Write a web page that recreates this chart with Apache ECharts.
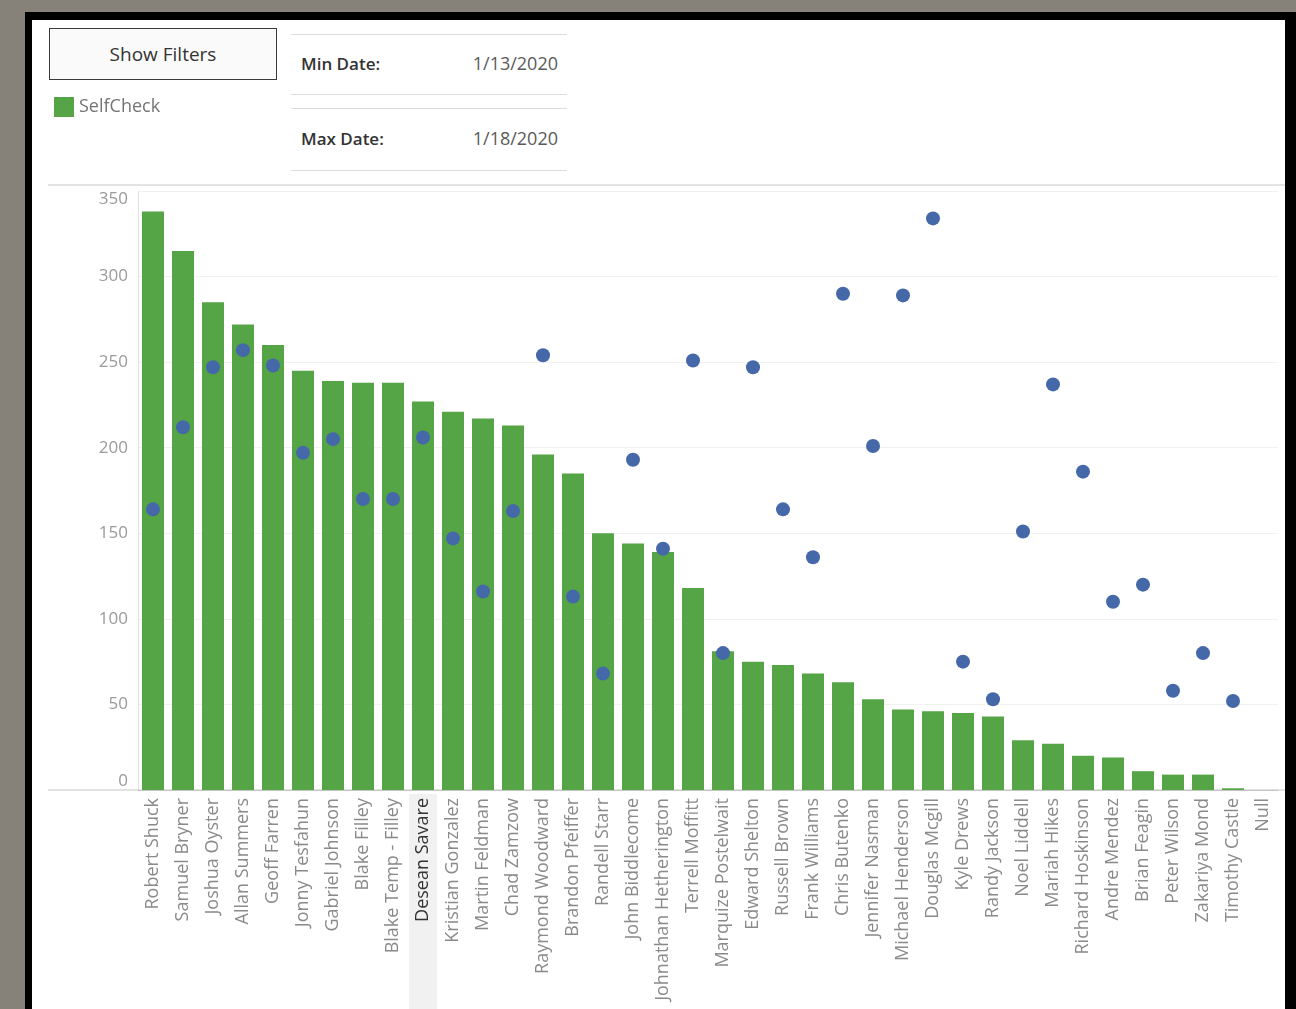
<!DOCTYPE html>
<html>
<head>
<meta charset="utf-8">
<script src="https://cdn.jsdelivr.net/npm/echarts@6/dist/echarts.min.js"></script>
<style>
  html, body { margin: 0; padding: 0; }
  body { width: 1296px; height: 1009px; background: #86827a; position: relative; overflow: hidden; font-family: "Open Sans", sans-serif; }
  .frame { position: absolute; left: 25px; top: 12px; width: 1280px; height: 1010px; background: #000; }
  .sheet { position: absolute; left: 32px; top: 20px; width: 1253px; height: 1000px; background: #fff; }
  .btn { position: absolute; left: 49px; top: 28px; width: 226px; height: 50px; border: 1.5px solid #3a3a3a;
         background: #fafafa; color: #333; font-size: 19px; line-height: 50px; text-align: center; }
  .rule { position: absolute; left: 291px; width: 276px; height: 0; border-top: 1.5px solid #dcdcdc; }
  .lbl { position: absolute; left: 301px; font-size: 17px; color: #333; font-weight: 600; }
  .val { position: absolute; right: 738px; font-size: 18px; color: #5a5a5a; }
  #chart { position: absolute; left: 0; top: 0; width: 1296px; height: 1009px; }
</style>
</head>
<body>
<div class="frame"></div>
<div class="sheet"></div>
<div class="btn">Show Filters</div>
<div class="rule" style="top:34px"></div>
<div class="lbl" style="top:52px">Min Date:</div>
<div class="val" style="top:51px">1/13/2020</div>
<div class="rule" style="top:94px"></div>
<div class="rule" style="top:108px"></div>
<div class="lbl" style="top:127px">Max Date:</div>
<div class="val" style="top:126px">1/18/2020</div>
<div class="rule" style="top:170px"></div>
<div id="chart"></div>
<script>
const names = [
  "Robert Shuck", "Samuel Bryner", "Joshua Oyster", "Allan Summers", "Geoff Farren",
  "Jonny Tesfahun", "Gabriel Johnson", "Blake Filley", "Blake Temp - Filley", "Desean Savare",
  "Kristian Gonzalez", "Martin Feldman", "Chad Zamzow", "Raymond Woodward", "Brandon Pfeiffer",
  "Randell Starr", "John Biddlecome", "Johnathan Hetherington", "Terrell Moffitt", "Marquize Postelwait",
  "Edward Shelton", "Russell Brown", "Frank Williams", "Chris Butenko", "Jennifer Nasman",
  "Michael Henderson", "Douglas Mcgill", "Kyle Drews", "Randy Jackson", "Noel Liddell",
  "Mariah Hikes", "Richard Hoskinson", "Andre Mendez", "Brian Feagin", "Peter Wilson",
  "Zakariya Mond", "Timothy Castle", "Null"
];
// bar: SelfCheck count
const selfCheck = [
  338, 315, 285, 272, 260, 245, 239, 238, 238, 227,
  221, 217, 213, 196, 185, 150, 144, 139, 118, 81,
  75, 73, 68, 63, 53, 47, 46, 45, 43, 29,
  27, 20, 19, 11, 9, 9, 1, null
];
// circle marks
const otherCheck = [
  164, 212, 247, 257, 248, 197, 205, 170, 170, 206,
  147, 116, 163, 254, 113, 68, 193, 141, 251, 80,
  247, 164, 136, 290, 201, 289, 334, 75, 53, 151,
  237, 186, 110, 120, 58, 80, 52, null
];
const yTicks = [0, 50, 100, 150, 200, 250, 300, 350];
const highlighted = "Desean Savare";

const chart = echarts.init(document.getElementById("chart"), null, { renderer: "canvas" });

const font = "Open Sans";

chart.setOption({
  animation: false,
  textStyle: { fontFamily: font },
  legend: {
    data: [{ name: "SelfCheck", icon: "rect" }],
    left: 49,
    top: 92,
    itemWidth: 20,
    itemHeight: 20,
    itemGap: 8,
    textStyle: { color: "#747474", fontSize: 18, fontFamily: font },
  },
  grid: { left: 138, right: 18, top: 191, bottom: 219, containLabel: false },
  xAxis: {
    type: "category",
    data: names.map((n) =>
      n === highlighted ? { value: n, textStyle: { color: "#333" } } : n
    ),
    axisLine: { show: true, lineStyle: { color: "#c4c4c4", width: 1 } },
    axisTick: { show: false },
    axisLabel: {
      rotate: 90,
      interval: 0,
      margin: 8,
      color: "#8a8a8a",
      fontSize: 18,
      fontFamily: font,
    },
  },
  yAxis: {
    type: "value",
    min: yTicks[0],
    max: yTicks[yTicks.length - 1],
    interval: 50,
    axisLine: { show: true, lineStyle: { color: "#e2e2e2" } },
    axisTick: { show: false },
    splitLine: { show: true, lineStyle: { color: "#f1f1f1" } },
    axisLabel: {
      color: "#9a9a9a",
      fontSize: 17,
      margin: 10,
      fontFamily: font,
      verticalAlignMinLabel: "bottom",
      verticalAlignMaxLabel: "top",
    },
  },
  series: [
    {
      name: "SelfCheck",
      type: "bar",
      data: selfCheck,
      barWidth: 22,
      itemStyle: { color: "#55a446" },
    },
    {
      name: "Other",
      type: "scatter",
      data: otherCheck,
      symbolSize: 14,
      itemStyle: { color: "#4468a8", opacity: 1 },
      z: 3,
    },
  ],
});

// decoration: pane border lines and highlighted label band
const bandX = chart.convertToPixel({ xAxisIndex: 0 }, highlighted);
const baseY = chart.convertToPixel({ yAxisIndex: 0 }, 0);
const topY = chart.convertToPixel({ yAxisIndex: 0 }, 350);
chart.setOption({
  graphic: [
    {
      type: "rect",
      z: -1,
      shape: { x: bandX - 14, y: baseY + 4, width: 28, height: 1009 - baseY },
      style: { fill: "#f1f1f1" },
      silent: true,
    },
    {
      type: "line",
      shape: { x1: 48, y1: topY - 6, x2: 1285, y2: topY - 6 },
      style: { stroke: "#dadada", lineWidth: 1.5 },
      silent: true,
    },
    {
      type: "line",
      shape: { x1: 48, y1: baseY, x2: 1285, y2: baseY },
      style: { stroke: "#c4c4c4", lineWidth: 1 },
      silent: true,
    },
  ],
});
</script>
</body>
</html>
